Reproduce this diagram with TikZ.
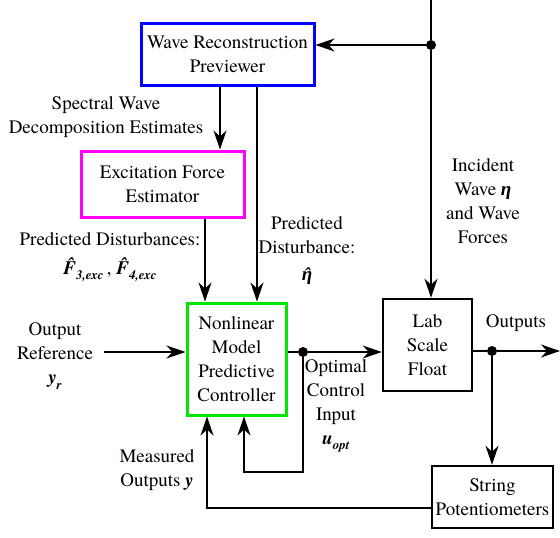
\documentclass[tikz,border=0pt]{standalone}
\usepackage{fontspec}
\setmainfont{texgyretermes}[Extension=.otf, UprightFont=*-regular, BoldFont=*-bold, ItalicFont=*-italic, BoldItalicFont=*-bolditalic]
\usetikzlibrary{arrows.meta}
\definecolor{prevblue}{RGB}{0,0,255}
\definecolor{excmag}{RGB}{255,0,255}
\definecolor{nmpcgreen}{RGB}{0,230,0}
\newfontfamily\greekbi{Liberation Serif}[UprightFont=* Bold Italic]
\newcommand{\bi}[1]{{\rmfamily\bfseries\itshape #1}}
\newcommand{\gbi}[1]{{\greekbi #1}}
\newcommand{\sub}[1]{\raisebox{-0.28em}{\fontsize{13}{13}\selectfont\rmfamily\bfseries\itshape #1}}
\newcommand{\hatc}[3]{{\setbox0\hbox{#3}\rlap{\hbox to \wd0{\hss\hspace{#2}\raisebox{#1}{\rmfamily\bfseries\itshape ˆ}\hss}}\box0}}
\begin{document}
\begin{tikzpicture}[x=1pt,y=-1pt,
  txt/.style={font=\rmfamily\fontsize{19}{24}\selectfont, align=center, inner sep=0pt},
  blk/.style={txt, draw, line width=2.5pt},
  arr/.style={line width=1.5pt, -{Stealth[length=19pt,width=13pt,inset=6pt]}},
  ln/.style={line width=1.5pt},
  dot/.style={circle, fill=black, minimum size=10pt, inner sep=0pt}]
\useasboundingbox (0,0) rectangle (560,538);
% blocks
\node[blk, draw=prevblue, line width=3pt, minimum width=173pt, minimum height=62pt] (prev) at (227.5,54) {Wave Reconstruction\\Previewer};
\node[blk, draw=excmag, line width=3pt, minimum width=163pt, minimum height=66pt] (exc) at (162.5,184) {Excitation Force\\Estimator};
\node[blk, draw=nmpcgreen, line width=3pt, minimum width=99pt, minimum height=112pt] (nmpc) at (236.5,359) {Nonlinear\\Model\\Predictive\\Controller};
\node[blk, minimum width=89pt, minimum height=92pt] (lab) at (427.5,345) {Lab\\Scale\\Float};
\node[blk, minimum width=121pt, minimum height=62pt] (pot) at (492.5,497) {String\\Potentiometers};
% junctions
\coordinate (top) at (431,0);
\node[dot] (d1) at (431,45) {};
\node[dot] (d2) at (303,352) {};
\node[dot] (d3) at (492,351) {};
\coordinate (inref) at (104,352);
\coordinate (outend) at (560,351);
\coordinate (loopb) at (303,472);
\coordinate (loopl) at (244,472);
\coordinate (fbl) at (207,508);
% connectors
\draw[ln] (top) -- (d1);
\draw[arr] (d1) -- (d1 -| prev.east);
\draw[arr] (d1) -- (d1 |- lab.north);
\draw[arr] (prev.south -| 220,0) -- (220,0 |- exc.north);
\draw[arr] (prev.south -| 257,0) -- (257,0 |- nmpc.north);
\draw[arr] (exc.south -| 205,0) -- (205,0 |- nmpc.north);
\draw[arr] (inref) -- (inref -| nmpc.west);
\draw[ln] (nmpc.east |- d2) -- (d2);
\draw[arr] (d2) -- (d2 -| lab.west);
\draw[ln] (lab.east |- d3) -- (d3);
\draw[arr] (d3) -- (outend);
\draw[arr] (d3) -- (d3 |- pot.north);
\draw[arr] (d2) -- (loopb) -- (loopl) -- (loopl |- nmpc.south);
\draw[arr] (pot.west |- fbl) -- (fbl) -- (fbl |- nmpc.south);
% labels
\node[txt] (l1) at (106,117) {Spectral Wave\\Decomposition Estimates};
\node[txt] (l2) at (110,239) {Predicted Disturbances:};
\node[txt] (l3) at (110,270) {\hatc{0.17em}{0.12em}{\bi{F}}\sub{3,exc}\,, \hatc{0.17em}{0.12em}{\bi{F}}\sub{4,exc}};
\node[txt] (l4) at (307,251) {Predicted\\Disturbance:\\[3pt]\hatc{0em}{0.05em}{\gbi{η}}};
\node[txt] (l5) at (483,201) {Incident\\Wave \gbi{η}\\and Wave\\Forces};
\node[txt] (l6) at (55,356) {Output\\Reference\\\bi{y}\sub{r}};
\node[txt] (l7) at (336,406) {Optimal\\Control\\Input\\\bi{u}\sub{opt}};
\node[txt] (l8) at (157,470) {Measured\\Outputs \bi{y}};
\node[txt] (l9) at (516,323) {Outputs};
\end{tikzpicture}
\end{document}
